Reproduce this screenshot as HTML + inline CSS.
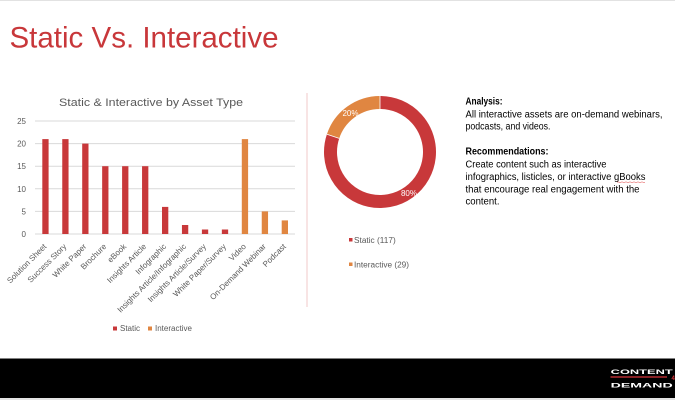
<!DOCTYPE html>
<html>
<head>
<meta charset="utf-8">
<style>
  html, body { margin: 0; padding: 0; background: #ffffff; }
  svg { display: block; }
  text { font-family: "Liberation Sans", "DejaVu Sans", sans-serif; }
</style>
</head>
<body>
<svg width="675" height="400" viewBox="0 0 675 400" xmlns="http://www.w3.org/2000/svg">
  <rect x="0" y="0" width="675" height="400" fill="#ffffff"/>
  <rect x="0" y="0" width="675" height="1" fill="#e2e2e2"/>

  <!-- Slide title -->
  <text x="9.5" y="47.5" font-size="30" fill="#c8373a" textLength="269" lengthAdjust="spacingAndGlyphs">Static Vs. Interactive</text>

  <!-- Bar chart title -->
  <text x="59" y="106" font-size="11" fill="#595959" textLength="184" lengthAdjust="spacingAndGlyphs">Static &amp; Interactive by Asset Type</text>

  <!-- Gridlines -->
  <g stroke="#d9d9d9" stroke-width="1">
    <line x1="35" y1="121" x2="295" y2="121"/>
    <line x1="35" y1="143.6" x2="295" y2="143.6"/>
    <line x1="35" y1="166.2" x2="295" y2="166.2"/>
    <line x1="35" y1="188.8" x2="295" y2="188.8"/>
    <line x1="35" y1="211.4" x2="295" y2="211.4"/>
    <line x1="35" y1="234" x2="295" y2="234"/>
  </g>

  <!-- Y labels -->
  <g font-size="8" fill="#595959" text-anchor="end">
    <text x="26" y="124">25</text>
    <text x="26" y="146.6">20</text>
    <text x="26" y="169.2">15</text>
    <text x="26" y="191.8">10</text>
    <text x="26" y="214.4">5</text>
    <text x="26" y="237">0</text>
  </g>

  <!-- Bars -->
  <g fill="#c8383a">
    <rect x="42.3" y="139.1" width="6.3" height="94.9"/>
    <rect x="62.25" y="139.1" width="6.3" height="94.9"/>
    <rect x="82.2" y="143.6" width="6.3" height="90.4"/>
    <rect x="102.15" y="166.2" width="6.3" height="67.8"/>
    <rect x="122.1" y="166.2" width="6.3" height="67.8"/>
    <rect x="142.05" y="166.2" width="6.3" height="67.8"/>
    <rect x="162" y="206.9" width="6.3" height="27.1"/>
    <rect x="181.95" y="225" width="6.3" height="9"/>
    <rect x="201.9" y="229.5" width="6.3" height="4.5"/>
    <rect x="221.85" y="229.5" width="6.3" height="4.5"/>
  </g>
  <g fill="#e08641">
    <rect x="241.8" y="139.1" width="6.3" height="94.9"/>
    <rect x="261.75" y="211.4" width="6.3" height="22.6"/>
    <rect x="281.7" y="220.4" width="6.3" height="13.6"/>
  </g>

  <!-- Category labels -->
  <g font-size="8" fill="#595959" text-anchor="end">
    <text transform="translate(47,247) rotate(-45)">Solution Sheet</text>
    <text transform="translate(66.95,247) rotate(-45)">Success Story</text>
    <text transform="translate(86.9,247) rotate(-45)">White Paper</text>
    <text transform="translate(106.85,247) rotate(-45)">Brochure</text>
    <text transform="translate(126.8,247) rotate(-45)">eBook</text>
    <text transform="translate(146.75,247) rotate(-45)">Insights Article</text>
    <text transform="translate(166.7,247) rotate(-45)">Infographic</text>
    <text transform="translate(186.65,247) rotate(-45)">Insights Article/Infographic</text>
    <text transform="translate(206.6,247) rotate(-45)">Insights Article/Survey</text>
    <text transform="translate(226.55,247) rotate(-45)">White Paper/Survey</text>
    <text transform="translate(246.5,247) rotate(-45)">Video</text>
    <text transform="translate(266.45,247) rotate(-45)">On-Demand Webinar</text>
    <text transform="translate(286.4,247) rotate(-45)">Podcast</text>
  </g>

  <!-- Bar legend -->
  <rect x="113" y="326.5" width="4" height="4" fill="#c8383a"/>
  <text x="120" y="331" font-size="8" fill="#595959">Static</text>
  <rect x="148" y="326.5" width="4" height="4" fill="#e08641"/>
  <text x="155" y="331" font-size="8" fill="#595959">Interactive</text>

  <!-- Divider -->
  <line x1="307" y1="93" x2="307" y2="307" stroke="#f2c9c9" stroke-width="1"/>

  <!-- Donut -->
  <path d="M380 102.5 A49.5 49.5 0 1 1 333.06 136.29" fill="none" stroke="#c8383a" stroke-width="13"/>
  <path d="M333.06 136.29 A49.5 49.5 0 0 1 380 102.5" fill="none" stroke="#e08641" stroke-width="13"/>
  <line x1="380" y1="96" x2="380" y2="109" stroke="#ffffff" stroke-width="0.8"/>
  <line x1="326.9" y1="134.2" x2="339.2" y2="138.4" stroke="#ffffff" stroke-width="0.8"/>
  <text x="350.5" y="116" font-size="8" fill="#ffffff" text-anchor="middle">20%</text>
  <text x="409" y="196" font-size="8" fill="#ffffff" text-anchor="middle">80%</text>

  <!-- Donut legend -->
  <rect x="349" y="238" width="3.5" height="3.5" fill="#c8383a"/>
  <text x="354" y="243" font-size="8" fill="#595959" textLength="41.7" lengthAdjust="spacingAndGlyphs">Static (117)</text>
  <rect x="349" y="262.5" width="3.5" height="3.5" fill="#e08641"/>
  <text x="354" y="267.5" font-size="8" fill="#595959" textLength="55" lengthAdjust="spacingAndGlyphs">Interactive (29)</text>

  <!-- Analysis text -->
  <g font-size="10" fill="#000000">
    <text x="465.5" y="104.7" font-weight="bold" textLength="37" lengthAdjust="spacingAndGlyphs">Analysis:</text>
    <text x="465.5" y="117.5" textLength="197" lengthAdjust="spacingAndGlyphs">All interactive assets are on-demand webinars,</text>
    <text x="465.5" y="129.5" textLength="85" lengthAdjust="spacingAndGlyphs">podcasts, and videos.</text>
    <text x="465.5" y="154.7" font-weight="bold" textLength="83" lengthAdjust="spacingAndGlyphs">Recommendations:</text>
    <text x="465.5" y="167.5" textLength="141" lengthAdjust="spacingAndGlyphs">Create content such as interactive</text>
    <text x="465.5" y="180" textLength="180" lengthAdjust="spacingAndGlyphs">infographics, listicles, or interactive gBooks</text>
    <text x="465.5" y="192.5" textLength="174" lengthAdjust="spacingAndGlyphs">that encourage real engagement with the</text>
    <text x="465.5" y="204.7" textLength="34" lengthAdjust="spacingAndGlyphs">content.</text>
  </g>
  <path d="M617 182.3 q1 -1 2 0 t2 0 t2 0 t2 0 t2 0 t2 0 t2 0 t2 0 t2 0 t2 0 t2 0 t2 0 t2 0 t2 0" fill="none" stroke="#e04040" stroke-width="0.5"/>

  <!-- Footer -->
  <rect x="0" y="358.5" width="675" height="39.5" fill="#000000"/>
  <rect x="0" y="398" width="675" height="2" fill="#e4e4e4"/>
  <text x="610.7" y="373.8" font-size="6.6" font-weight="bold" fill="#ffffff" textLength="62" lengthAdjust="spacingAndGlyphs">CONTENT</text>
  <line x1="610.5" y1="377" x2="667" y2="377" stroke="#d8343a" stroke-width="1.3"/>
  <text x="671.5" y="380" font-size="6" font-weight="bold" fill="#d8343a">4</text>
  <text x="610.7" y="387.4" font-size="6.8" font-weight="bold" fill="#ffffff" textLength="62" lengthAdjust="spacingAndGlyphs">DEMAND</text>
</svg>
</body>
</html>
